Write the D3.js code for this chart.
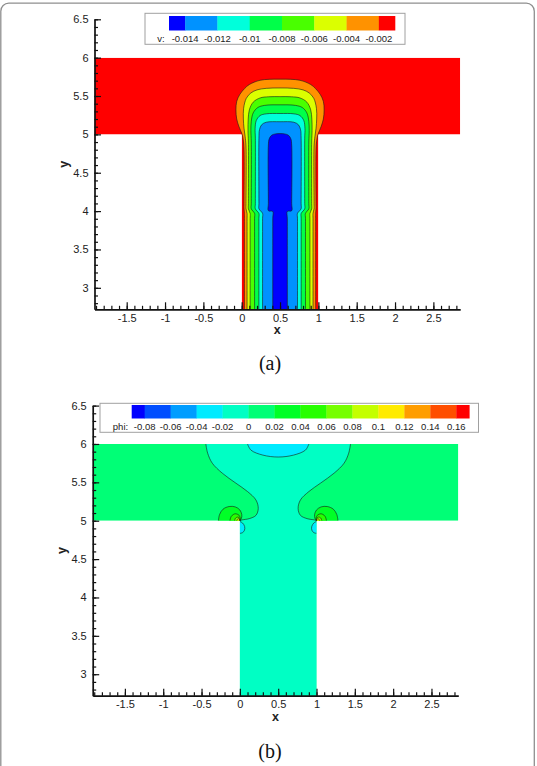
<!DOCTYPE html>
<html>
<head>
<meta charset="utf-8">
<script src="https://cdn.jsdelivr.net/npm/d3@7"></script>
<style>
  body { margin: 0; background: #fff; }
  svg { display: block; font-family: "Liberation Sans", Arial, sans-serif; }
</style>
</head>
<body>
<svg id="fig" width="537" height="766"></svg>
<script>
// tecplot "small rainbow" colour stops
const rainbowStops = ['#0000ff', '#00ffff', '#00ff00', '#ffff00', '#ff0000'];

const xTicks = [-1.5, -1, -0.5, 0, 0.5, 1, 1.5, 2, 2.5];
const yTicks = [3, 3.5, 4, 4.5, 5, 5.5, 6, 6.5];
const xDomain = [-1.92, 2.85];
const yDomain = [2.72, 6.5];

// T shaped channel (data coords)
const channel = [[-1.92, 6], [2.85, 6], [2.85, 5], [1, 5], [1, 2.72], [0, 2.72], [0, 5], [-1.92, 5]];

// ---- (a) vertical velocity v ----
const vLevels = [-0.014, -0.012, -0.01, -0.008, -0.006, -0.004, -0.002];
// contour lines, left leg (bottom) -> cap -> right leg (bottom)
const vLine002 = [[0.035,2.72],[0.035,3.9],[0.035,3.97],[0.03,4.03],[0.03,4.1],[0.03,4.8],[0.02,4.93],[0.005,5.0],[-0.035,5.1],[-0.065,5.2],[-0.075,5.32],[-0.065,5.43],[-0.025,5.52],[0.04,5.6],[0.1,5.65],[0.24,5.705],[0.5,5.72],[0.76,5.705],[0.9,5.65],[0.96,5.6],[1.025,5.52],[1.065,5.43],[1.075,5.32],[1.065,5.2],[1.035,5.1],[0.995,5.0],[0.98,4.93],[0.97,4.8],[0.97,4.1],[0.97,4.03],[0.965,3.97],[0.965,3.9],[0.965,2.72]];
const vLine004 = [[0.07,2.72],[0.07,3.9],[0.07,3.97],[0.056,4.03],[0.056,4.1],[0.056,4.85],[0.045,4.97],[0.03,5.08],[0.022,5.2],[0.025,5.34],[0.06,5.47],[0.12,5.54],[0.2,5.58],[0.32,5.6],[0.5,5.605],[0.68,5.6],[0.8,5.58],[0.88,5.54],[0.94,5.47],[0.975,5.34],[0.978,5.2],[0.97,5.08],[0.955,4.97],[0.944,4.85],[0.944,4.1],[0.944,4.03],[0.93,3.97],[0.93,3.9],[0.93,2.72]];
const vLine006 = [[0.11,2.72],[0.11,3.9],[0.11,3.97],[0.087,4.03],[0.087,4.1],[0.087,4.9],[0.082,5.05],[0.085,5.2],[0.1,5.32],[0.15,5.42],[0.24,5.475],[0.35,5.49],[0.5,5.492],[0.65,5.49],[0.76,5.475],[0.85,5.42],[0.9,5.32],[0.915,5.2],[0.918,5.05],[0.913,4.9],[0.913,4.1],[0.913,4.03],[0.89,3.97],[0.89,3.9],[0.89,2.72]];
const vLine008 = [[0.168,2.72],[0.168,3.9],[0.168,3.97],[0.125,4.03],[0.125,4.1],[0.125,4.9],[0.12,5.05],[0.125,5.17],[0.15,5.28],[0.21,5.35],[0.3,5.378],[0.5,5.385],[0.7,5.378],[0.79,5.35],[0.85,5.28],[0.875,5.17],[0.88,5.05],[0.875,4.9],[0.875,4.1],[0.875,4.03],[0.832,3.97],[0.832,3.9],[0.832,2.72]];
const vLine010 = [[0.224,2.72],[0.224,3.9],[0.224,3.97],[0.178,4.03],[0.178,4.1],[0.178,4.95],[0.175,5.08],[0.19,5.18],[0.24,5.245],[0.32,5.268],[0.5,5.272],[0.68,5.268],[0.76,5.245],[0.81,5.18],[0.825,5.08],[0.822,4.95],[0.822,4.1],[0.822,4.03],[0.776,3.97],[0.776,3.9],[0.776,2.72]];
const vLine012 = [[0.272,2.72],[0.272,3.9],[0.272,3.97],[0.225,4.03],[0.225,4.1],[0.225,4.95],[0.232,5.06],[0.26,5.125],[0.32,5.158],[0.5,5.165],[0.68,5.158],[0.74,5.125],[0.768,5.06],[0.775,4.95],[0.775,4.1],[0.775,4.03],[0.728,3.97],[0.728,3.9],[0.728,2.72]];
const vLine014 = [[0.405,2.72],[0.405,3.9],[0.405,3.995],[0.348,4.005],[0.348,4.1],[0.348,4.86],[0.358,4.94],[0.39,4.988],[0.44,5.006],[0.5,5.01],[0.56,5.006],[0.61,4.988],[0.642,4.94],[0.652,4.86],[0.652,4.1],[0.652,4.005],[0.595,3.995],[0.595,3.9],[0.595,2.72]];

// ---- (b) phase field phi ----
const phiLevels = [-0.08, -0.06, -0.04, -0.02, 0, 0.02, 0.04, 0.06, 0.08, 0.1, 0.12, 0.14, 0.16];
const phiZeroL = [[-0.444,6.0],[-0.42,5.88],[-0.36,5.75],[-0.23,5.62],[-0.053,5.49],[0.1,5.38],[0.21,5.27],[0.24,5.16],[0.21,5.07],[0.122,5.027],[0.027,5.01],[0.0,5.0]];
const phiZeroR = [[1.0,5.0],[0.973,5.01],[0.878,5.027],[0.79,5.07],[0.76,5.16],[0.79,5.27],[0.9,5.38],[1.053,5.49],[1.23,5.62],[1.36,5.75],[1.42,5.88],[1.444,6.0]];
const phiDome = [[0.1,6.0],[0.145,5.92],[0.3,5.855],[0.5,5.83],[0.7,5.855],[0.855,5.92],[0.9,6.0]];
const phiDipL = [[0.0,4.99],[0.035,4.97],[0.062,4.925],[0.06,4.875],[0.035,4.845],[0.0,4.835]];
const phiDipR = [[1.0,4.99],[0.965,4.97],[0.938,4.925],[0.94,4.875],[0.965,4.845],[1.0,4.835]];
const phiCorner02L = [[-0.28,5.0],[-0.265,5.08],[-0.22,5.15],[-0.14,5.185],[-0.06,5.18],[0.0,5.14],[0.025,5.08],[0.02,5.03],[0.0,5.0]];
const phiCorner02R = [[1.28,5.0],[1.265,5.08],[1.22,5.15],[1.14,5.185],[1.06,5.18],[1.0,5.14],[0.975,5.08],[0.98,5.03],[1.0,5.0]];
const phiCorner04L = [[-0.13,5.0],[-0.11,5.06],[-0.06,5.09],[-0.01,5.07],[0.005,5.03],[0.0,5.0]];
const phiCorner04R = [[1.13,5.0],[1.11,5.06],[1.06,5.09],[1.01,5.07],[0.995,5.03],[1.0,5.0]];
const phiCorner06L = [[-0.07,5.0],[-0.055,5.035],[-0.025,5.048],[-0.003,5.03],[0.0,5.0]];
const phiCorner06R = [[1.07,5.0],[1.055,5.035],[1.025,5.048],[1.003,5.03],[1.0,5.0]];
const phiCorner08L = [[-0.04,5.0],[-0.03,5.02],[-0.012,5.025],[0.0,5.0]];
const phiCorner08R = [[1.04,5.0],[1.03,5.02],[1.012,5.025],[1.0,5.0]];

const svg = d3.select('#fig');

// outer frame of the figure
svg.append('rect')
    .attr('x', 0.8).attr('y', 3.2)
    .attr('width', 533.5).attr('height', 800)
    .attr('rx', 8)
    .attr('fill', 'none')
    .attr('stroke', '#8f8f8f')
    .attr('stroke-width', 1.3);

const rainbow = d3.scaleLinear().domain([0, 0.25, 0.5, 0.75, 1]).range(rainbowStops);
const bandColors = n => d3.range(n).map(k => rainbow(k / (n - 1)));

function drawPanel(cfg) {
    const x = d3.scaleLinear().domain(xDomain).range(cfg.xRange);
    const y = d3.scaleLinear().domain(yDomain).range(cfg.yRange);
    const g = svg.append('g');

    const line = d3.line().x(d => x(d[0])).y(d => y(d[1])).curve(d3.curveCatmullRom.alpha(0.5));
    const poly = d3.line().x(d => x(d[0])).y(d => y(d[1]));

    g.append('clipPath').attr('id', cfg.id + '-clip')
        .append('path').attr('d', poly(channel) + 'Z');

    const field = g.append('g').attr('clip-path', `url(#${cfg.id}-clip)`);
    field.append('path').attr('d', poly(channel) + 'Z').attr('fill', cfg.colors[cfg.base]);

    cfg.regions.forEach(r => {
        field.append('path').attr('d', line(r.fill) + 'Z').attr('fill', cfg.colors[r.band]);
    });
    cfg.regions.forEach(r => {
        r.lines.forEach(l => {
            field.append('path').attr('d', line(l))
                .attr('fill', 'none')
                .attr('stroke', '#1a1a1a')
                .attr('stroke-width', 0.6);
        });
    });

    // axes, ticks pointing inward
    const x0 = cfg.xRange[0], yb = cfg.yRange[0];
    const fmt = d => String(d);

    const xMinor = g.append('g').attr('transform', `translate(0,${yb})`)
        .call(d3.axisBottom(x).tickValues(x.ticks(48)).tickSize(-3.5).tickFormat(''));
    const yMinor = g.append('g').attr('transform', `translate(${x0},0)`)
        .call(d3.axisLeft(y).tickValues(y.ticks(38)).tickSize(-3.5).tickFormat(''));
    [xMinor, yMinor].forEach(a => a.select('.domain').remove());

    const xAxis = g.append('g').attr('transform', `translate(0,${yb})`)
        .call(d3.axisBottom(x).tickValues(xTicks).tickSize(-7).tickSizeOuter(0).tickPadding(5).tickFormat(fmt));
    const yAxis = g.append('g').attr('transform', `translate(${x0},0)`)
        .call(d3.axisLeft(y).tickValues(yTicks).tickSize(-6.5).tickSizeOuter(0).tickPadding(6).tickFormat(fmt));

    g.selectAll('.tick line').attr('stroke', '#111').attr('stroke-width', 1.2);
    [xAxis, yAxis].forEach(a => {
        a.select('.domain').attr('stroke', '#111').attr('stroke-width', 1.7);
        a.selectAll('text').attr('font-size', 11).attr('fill', '#222')
            .attr('font-family', '"Liberation Sans", Arial, sans-serif');
    });

    g.append('text')
        .attr('x', (cfg.xRange[0] + cfg.xRange[1]) / 2).attr('y', yb + 25)
        .attr('text-anchor', 'middle')
        .attr('font-size', 12.5).attr('font-weight', 'bold').attr('fill', '#222')
        .text('x');
    g.append('text')
        .attr('transform', `translate(${x0 - 27},${(cfg.yRange[0] + cfg.yRange[1]) / 2}) rotate(-90)`)
        .attr('text-anchor', 'middle')
        .attr('font-size', 12.5).attr('font-weight', 'bold').attr('fill', '#222')
        .text('y');

    // colour legend
    const lg = cfg.legend;
    const step = cfg.levels[1] - cfg.levels[0];
    const nL = cfg.levels.length;
    const lx = d3.scaleLinear()
        .domain([cfg.levels[0] - step / 2, cfg.levels[nL - 1] + step / 2])
        .range(lg.bar);
    g.append('rect')
        .attr('x', lg.box[0]).attr('y', lg.box[1])
        .attr('width', lg.box[2]).attr('height', lg.box[3])
        .attr('fill', '#fff').attr('stroke', '#a0a0a0').attr('stroke-width', 1);
    cfg.colors.forEach((c, i) => {
        const lo = i === 0 ? lx.domain()[0] : cfg.levels[i - 1];
        const hi = i === cfg.colors.length - 1 ? lx.domain()[1] : cfg.levels[i];
        g.append('rect')
            .attr('x', lx(lo)).attr('y', lg.barY)
            .attr('width', lx(hi) - lx(lo) + 0.3).attr('height', lg.barH)
            .attr('fill', c);
    });
    g.selectAll(null).data(cfg.levels).enter().append('text')
        .attr('x', d => lx(d)).attr('y', lg.labelY)
        .attr('text-anchor', 'middle')
        .attr('font-size', 9.5).attr('fill', '#222')
        .text(fmt);
    g.append('text')
        .attr('x', lg.nameX).attr('y', lg.labelY)
        .attr('text-anchor', 'middle')
        .attr('font-size', 9.5).attr('fill', '#222')
        .text(lg.name);

    svg.append('text')
        .attr('x', 270).attr('y', cfg.captionY)
        .attr('text-anchor', 'middle')
        .attr('font-family', '"Liberation Serif", "Times New Roman", serif')
        .attr('font-size', 20).attr('fill', '#111')
        .text(cfg.caption);
}

const vColors = bandColors(vLevels.length + 1);
drawPanel({
    id: 'pa',
    xRange: [94.5, 460.2],
    yRange: [309.3, 19.3],
    levels: vLevels,
    colors: vColors,
    base: 7,
    regions: [vLine002, vLine004, vLine006, vLine008, vLine010, vLine012, vLine014]
        .map((l, i) => ({ fill: l, lines: [l], band: 6 - i })),
    legend: { box: [145, 13.3, 260, 31], bar: [169, 395], barY: 16, barH: 14.5, labelY: 41.5, nameX: 161, name: 'v:' },
    caption: '(a)',
    captionY: 370
});

const phiColors = bandColors(phiLevels.length + 1);
drawPanel({
    id: 'pb',
    xRange: [92.7, 458.3],
    yRange: [695.7, 405.6],
    levels: phiLevels,
    colors: phiColors,
    base: 5,
    regions: [
        { fill: phiZeroL.concat([[0, 2.6], [1, 2.6]], phiZeroR), lines: [phiZeroL, phiZeroR], band: 4 },
        { fill: phiDome, lines: [phiDome], band: 3 },
        { fill: phiDipL, lines: [phiDipL], band: 3 },
        { fill: phiDipR, lines: [phiDipR], band: 3 },
        { fill: phiCorner02L, lines: [phiCorner02L], band: 6 },
        { fill: phiCorner02R, lines: [phiCorner02R], band: 6 },
        { fill: phiCorner04L, lines: [phiCorner04L], band: 7 },
        { fill: phiCorner04R, lines: [phiCorner04R], band: 7 },
        { fill: phiCorner06L, lines: [phiCorner06L], band: 8 },
        { fill: phiCorner06R, lines: [phiCorner06R], band: 8 },
        { fill: phiCorner08L, lines: [phiCorner08L], band: 10 },
        { fill: phiCorner08R, lines: [phiCorner08R], band: 10 }
    ],
    legend: { box: [100, 403.3, 378.5, 29], bar: [131.7, 469.3], barY: 405, barH: 13.5, labelY: 429.5, nameX: 120.5, name: 'phi:' },
    caption: '(b)',
    captionY: 758
});
</script>
</body>
</html>
